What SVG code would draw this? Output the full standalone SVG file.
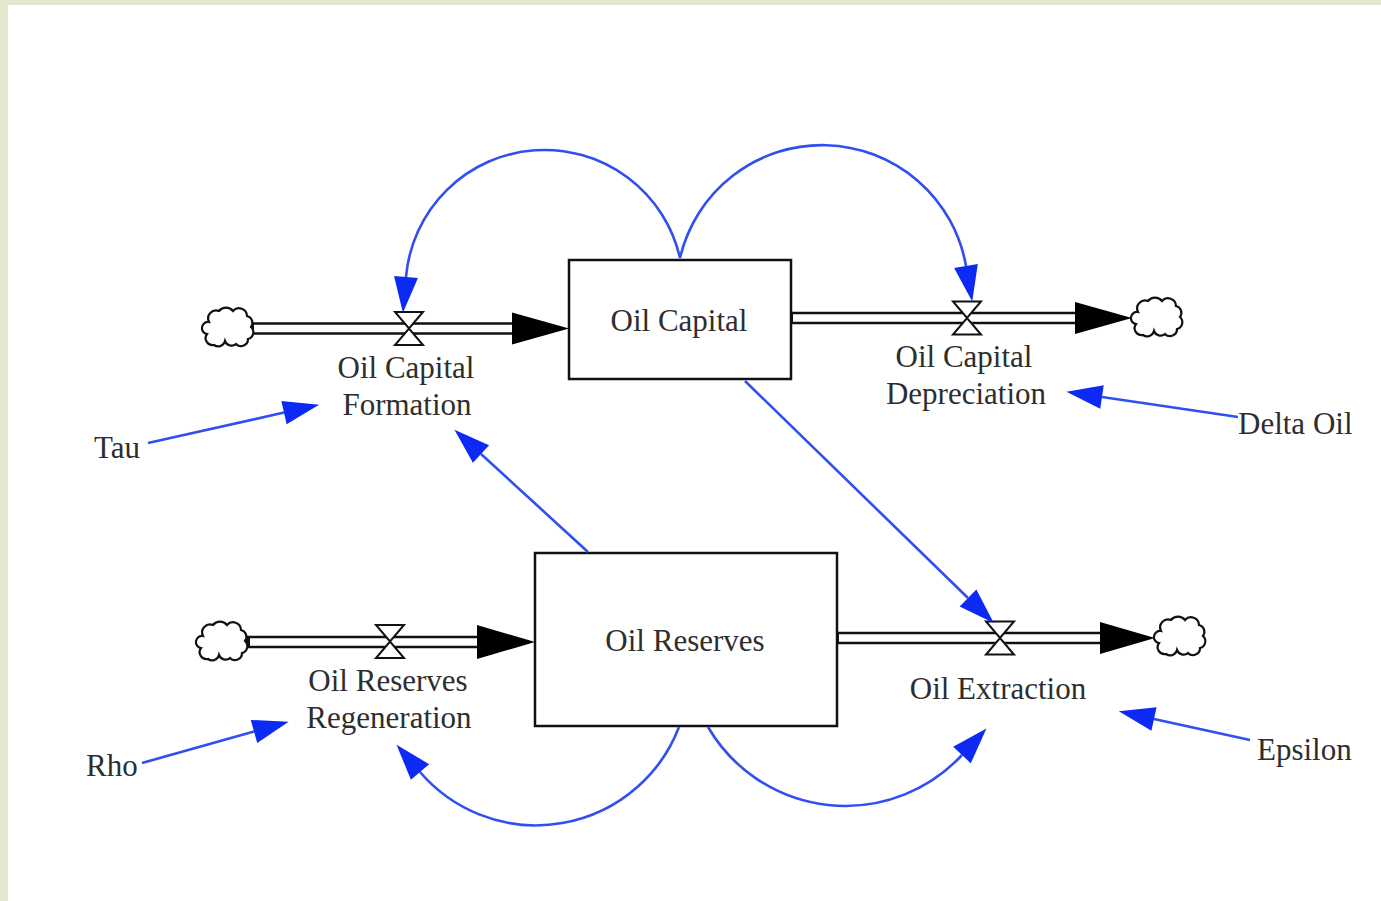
<svg xmlns="http://www.w3.org/2000/svg" xmlns:xlink="http://www.w3.org/1999/xlink" width="1381" height="901" viewBox="0 0 1381 901">
  <style>
    .label { font-family: "Liberation Serif", "Times New Roman", serif; font-size: 31px; fill: #2e2e2e; }
    .mid { text-anchor: middle; }
    .stock { fill: #ffffff; stroke: #111111; stroke-width: 2.5; }
    .pipe-outer { stroke: #111111; stroke-width: 12.5; fill: none; }
    .pipe-inner { stroke: #ffffff; stroke-width: 7.5; fill: none; }
    .flowhead { fill: #000000; }
    .valve { fill: #ffffff; stroke: #111111; stroke-width: 2; stroke-linejoin: miter; }
    .cloud { fill: #ffffff; stroke: #111111; stroke-width: 2.2; }
    .link { fill: none; stroke: #2f4ff0; stroke-width: 2.6; marker-end: url(#linkhead); }
  </style>
  <defs>
    <marker id="linkhead" markerUnits="userSpaceOnUse" markerWidth="40" markerHeight="26" refX="0" refY="12" orient="auto" overflow="visible">
      <path d="M0,0 L36,12 L0,24 Z" fill="#0d2af5"/>
    </marker>
    <path id="cloud-shape" d="M-20,-6 a8,8 0 0 1 10,-11 a9,9 0 0 1 14,0 a8,8 0 0 1 14,5 a7,7 0 0 1 4,11 a7,7 0 0 1 -3,12 a7,7 0 0 1 -12,5 a7,7 0 0 1 -11,-3 a7,7 0 0 1 -11,4 a7,7 0 0 1 -7,-11 a6,6 0 0 1 2,-12 Z"/>
    <path id="valve-shape" d="M-14,-16.5 L14,-16.5 L0,0 Z M-14,16.5 L14,16.5 L0,0 Z"/>
  </defs>

  <!-- page background with pale frame -->
  <rect x="0" y="0" width="1381" height="901" fill="#e5e8cf"/>
  <rect x="8" y="5" width="1373" height="896" fill="#ffffff"/>

  <!-- material flows: double-line pipes and their heads -->
  <g id="pipes">
    <path class="pipe-outer" d="M250,328.5 L514,328.5 M791,318 L1077,318 M246,642 L479,642 M837,638 L1102,638"/>
    <path class="pipe-inner" d="M254,328.5 L514,328.5 M793,318 L1077,318 M250,642 L479,642 M839,638 L1102,638"/>
    <polygon class="flowhead" points="512,312.5 569,328.5 512,344.5"/>
    <polygon class="flowhead" points="1075,302 1132,318 1075,334"/>
    <polygon class="flowhead" points="477,625 535,642 477,659"/>
    <polygon class="flowhead" points="1100,622 1155,638 1100,654"/>
  </g>

  <!-- sources and sinks -->
  <g id="cloud-capital-source"><use xlink:href="#cloud-shape" class="cloud" transform="translate(229,328)"/></g>
  <g id="cloud-capital-sink"><use xlink:href="#cloud-shape" class="cloud" transform="translate(1158,318)"/></g>
  <g id="cloud-reserves-source"><use xlink:href="#cloud-shape" class="cloud" transform="translate(223,642)"/></g>
  <g id="cloud-reserves-sink"><use xlink:href="#cloud-shape" class="cloud" transform="translate(1181,637)"/></g>

  <!-- stocks -->
  <g id="stock-oil-capital">
    <rect class="stock" x="569" y="260" width="222" height="119"/>
    <text class="label mid" x="679" y="331">Oil Capital</text>
  </g>
  <g id="stock-oil-reserves">
    <rect class="stock" x="535" y="553" width="302" height="173"/>
    <text class="label mid" x="685" y="651">Oil Reserves</text>
  </g>

  <!-- flow valves -->
  <g id="flow-oil-capital-formation">
    <use xlink:href="#valve-shape" class="valve" transform="translate(409,328.5)"/>
    <text class="label mid" x="406" y="378">Oil Capital</text>
    <text class="label mid" x="407" y="415">Formation</text>
  </g>
  <g id="flow-oil-capital-depreciation">
    <use xlink:href="#valve-shape" class="valve" transform="translate(967,318)"/>
    <text class="label mid" x="964" y="367">Oil Capital</text>
    <text class="label mid" x="966" y="404">Depreciation</text>
  </g>
  <g id="flow-oil-reserves-regeneration">
    <use xlink:href="#valve-shape" class="valve" transform="translate(390,641.5)"/>
    <text class="label mid" x="388" y="691">Oil Reserves</text>
    <text class="label mid" x="389" y="728">Regeneration</text>
  </g>
  <g id="flow-oil-extraction">
    <use xlink:href="#valve-shape" class="valve" transform="translate(1000,638)"/>
    <text class="label mid" x="998" y="699">Oil Extraction</text>
  </g>

  <!-- parameters -->
  <g id="aux-tau"><text class="label" x="94" y="458">Tau</text></g>
  <g id="aux-rho"><text class="label" x="86" y="776">Rho</text></g>
  <g id="aux-delta-oil"><text class="label" x="1238" y="434">Delta Oil</text></g>
  <g id="aux-epsilon"><text class="label" x="1257" y="760">Epsilon</text></g>

  <!-- information links -->
  <g id="connectors">
    <path class="link" d="M680,258 A139,139 0 0 0 406,277"/>
    <path class="link" d="M680,258 A146,146 0 0 1 966,266"/>
    <path class="link" d="M679,727 A153,153 0 0 1 420,772"/>
    <path class="link" d="M708,727 A159,159 0 0 0 962,755"/>
    <path class="link" d="M588,552 L481,454"/>
    <path class="link" d="M745,381 L968,598"/>
    <path class="link" d="M148,443 L284,412.6"/>
    <path class="link" d="M142,763 L254,731.5"/>
    <path class="link" d="M1238,417 L1102,397"/>
    <path class="link" d="M1250,740 L1154,719"/>
  </g>
</svg>
